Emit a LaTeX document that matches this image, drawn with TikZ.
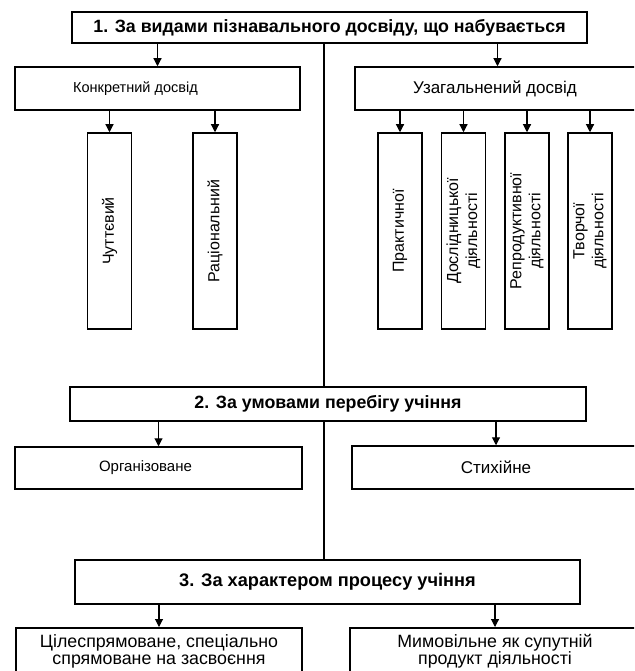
\documentclass[tikz,border=0pt]{standalone}
\usepackage{fontspec}
\setmainfont{Liberation Sans}
\usetikzlibrary{arrows.meta}
\begin{document}
\begin{tikzpicture}[x=1pt,y=1pt,
  box/.style={draw, line width=1.5pt, inner sep=0pt},
  hfont/.style={font=\fontsize{17.8}{20}\selectfont\bfseries},
  vbox/.style={draw, line width=1.5pt, rotate=90, minimum width=196pt, minimum height=44pt,
    inner sep=0pt, align=center, font=\fontsize{16}{19}\selectfont},
  arr/.style={line width=1.1pt, -{Triangle[width=8pt,length=8pt]}},
  spine/.style={line width=1.2pt},
  ]
\useasboundingbox (0,0) rectangle (634,-671);
\fill[white] (0,0) rectangle (634,-671);
\clip (0,0) rectangle (634,-671);

% level 1
\node[box, hfont, minimum width=515pt, minimum height=31pt] (t1) at (329.5,-27.5)
  {1. За видами пізнавального досвіду, що набувається};
\node[box, font=\fontsize{14.5}{16}\selectfont, minimum width=285pt, minimum height=43pt] (konk) at (157.5,-88.5)
  {\hspace*{-44pt}Конкретний досвід};
\node[box, font=\fontsize{17}{19}\selectfont, minimum width=285pt, minimum height=43pt] (uzag) at (497.5,-88.5)
  {\hspace*{-5pt}Узагальнений досвід};

\node[vbox] (chut) at (109.5,-231) {Чуттєвий};
\node[vbox] (rats) at (215,-231) {Раціональний};
\node[vbox] (prak) at (400,-231) {Практичної};
\node[vbox] (dosl) at (463.5,-231) {Дослідницької\\діяльності};
\node[vbox] (repr) at (527,-231) {Репродуктивної\\діяльності};
\node[vbox] (tvor) at (590,-231) {Творчої\\діяльності};

% level 2
\node[box, hfont, minimum width=516pt, minimum height=34pt] (t2) at (328,-404)
  {2. За умовами перебігу учіння};
\node[box, font=\fontsize{15}{17}\selectfont, minimum width=287pt, minimum height=42pt] (org) at (158.5,-468)
  {\hspace*{-26pt}Організоване};
\node[box, font=\fontsize{17}{19}\selectfont, minimum width=288pt, minimum height=43pt] (styk) at (496,-467.5)
  {Стихійне};

% level 3
\node[box, font=\fontsize{18.2}{20}\selectfont\bfseries, minimum width=505pt, minimum height=44pt] (t3) at (327.5,-582)
  {3. За характером процесу учіння};
\node[box, anchor=north, align=center, font=\fontsize{17.8}{17}\selectfont, minimum width=286pt,
  inner ysep=7pt] (bl) at (159,-627)
  {Цілеспрямоване, спеціально\\спрямоване на засвоєння};
\node[box, anchor=north, align=center, font=\fontsize{17.8}{17}\selectfont, minimum width=290pt,
  inner ysep=7pt] (br) at (495,-627)
  {Мимовільне як супутній\\продукт діяльності};

% spine
\coordinate (sp) at (324,0);
\draw[spine] (t1.south -| sp) -- (t2.north -| sp);
\draw[spine] (t2.south -| sp) -- (t3.north -| sp);

% arrows
\draw[arr] (t1.south -| konk.north) -- (konk.north);
\draw[arr] (t1.south -| uzag.north) -- (uzag.north);
\foreach \n in {chut,rats} \draw[arr] (konk.south -| \n.east) -- (\n.east);
\foreach \n in {prak,dosl,repr,tvor} \draw[arr] (uzag.south -| \n.east) -- (\n.east);
\draw[arr] (t2.south -| org.north) -- (org.north);
\draw[arr] (t2.south -| styk.north) -- (styk.north);
\draw[arr] (t3.south -| bl.north) -- (bl.north);
\draw[arr] (t3.south -| br.north) -- (br.north);
\end{tikzpicture}
\end{document}
